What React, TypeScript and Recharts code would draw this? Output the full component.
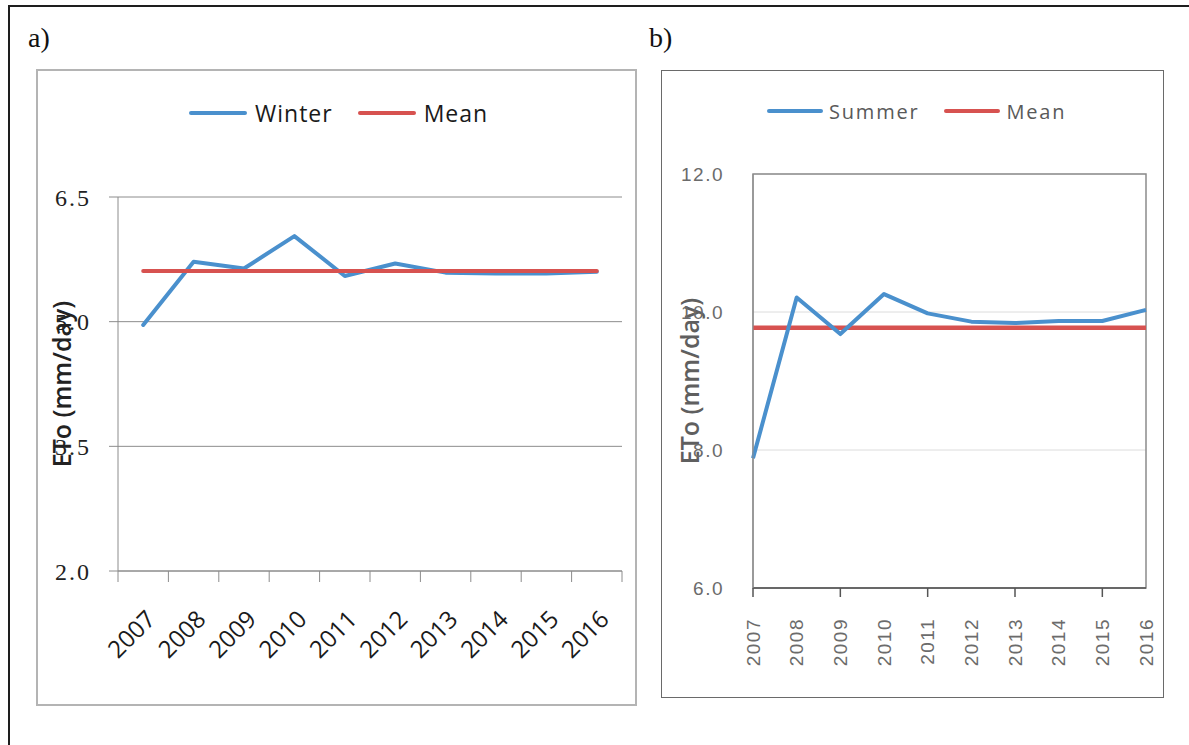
import React from 'react';
import { LineChart, Line, XAxis, YAxis, CartesianGrid, Legend, ReferenceArea } from 'recharts';

const years = [2007, 2008, 2009, 2010, 2011, 2012, 2013, 2014, 2015, 2016];

// panel a) winter ETo
const winterEto = [4.96, 5.72, 5.64, 6.03, 5.55, 5.7, 5.59, 5.58, 5.58, 5.6];
const winterMean = [5.61, 5.61, 5.61, 5.61, 5.61, 5.61, 5.61, 5.61, 5.61, 5.61];
const winterTicks = [2.0, 3.5, 5.0, 6.5];
// Excel draws the category tick marks between the years
const winterBounds = [2006.5, 2007.5, 2008.5, 2009.5, 2010.5, 2011.5, 2012.5, 2013.5, 2014.5, 2015.5, 2016.5];

// panel b) summer ETo
const summerEto = [7.88, 10.21, 9.68, 10.26, 9.98, 9.86, 9.84, 9.87, 9.87, 10.03];
const summerMean = [9.77, 9.77, 9.77, 9.77, 9.77, 9.77, 9.77, 9.77, 9.77, 9.77];
const summerTicks = [6, 8, 10, 12];
const summerMarkYears = [2007, 2009, 2011, 2013, 2015];

const BLUE = '#4a90cd';
const RED = '#d75250';
const SANS = '"Open Sans", sans-serif';

const winterData = years.map((year, i) => ({ year, winter: winterEto[i], mean: winterMean[i] }));
const summerData = years.map((year, i) => ({ year, summer: summerEto[i], mean: summerMean[i] }));

type LegendLook = {
  order: string[];
  lineWidth: number;
  textGap: number;
  gap: number;
  fontSize: number;
  letterSpacing: number;
  color: string;
};

const makeLegend = (look: LegendLook) => (props: any) => {
  const items = look.order
    .map((name) => (props.payload || []).find((p: any) => p.value === name))
    .filter(Boolean);
  return (
    <div style={{ display: 'flex', alignItems: 'center', height: 30, whiteSpace: 'nowrap', fontFamily: SANS }}>
      {items.map((entry: any, i: number) => (
        <div key={entry.value} style={{ display: 'flex', alignItems: 'center', marginRight: i < items.length - 1 ? look.gap : 0 }}>
          <span style={{ display: 'inline-block', width: look.lineWidth, height: 4, borderRadius: 2, background: entry.color }} />
          <span style={{ marginLeft: look.textGap, color: look.color, fontSize: look.fontSize, letterSpacing: look.letterSpacing }}>
            {entry.value}
          </span>
        </div>
      ))}
    </div>
  );
};

const yTitle = (shift: number, color: string) => (props: any) => {
  const { viewBox } = props;
  const cx = viewBox.x + shift;
  const cy = viewBox.y + viewBox.height / 2;
  return (
    <text
      x={cx}
      y={cy}
      transform={`rotate(-90 ${cx} ${cy})`}
      textAnchor="middle"
      dominantBaseline="central"
      fontFamily={SANS}
      fontSize={25}
      fontWeight={600}
      fill={color}
    >
      {props.value}
    </text>
  );
};

// tick marks only, no label
const NoLabel = () => <g />;

const SlantYearTick = (props: any) => {
  const { x, y, payload } = props;
  const tx = x + 7;
  return (
    <text
      x={tx}
      y={y}
      transform={`rotate(-45 ${tx} ${y})`}
      textAnchor="end"
      dominantBaseline="central"
      fontFamily={SANS}
      fontSize={24}
      fill="#1a1a1a"
    >
      {payload.value}
    </text>
  );
};

const UprightYearTick = (props: any) => {
  const { x, y, payload } = props;
  return (
    <text
      x={x}
      y={y}
      transform={`rotate(-90 ${x} ${y})`}
      textAnchor="end"
      dominantBaseline="central"
      fontFamily='"Liberation Sans", sans-serif'
      fontSize={19}
      letterSpacing={1.5}
      fill="#6b6b6b"
    >
      {payload.value}
    </text>
  );
};

function WinterChart() {
  const GRID = '#8c8c8c';
  return (
    <div style={{ position: 'absolute', left: 36, top: 69, width: 601, height: 637 }}>
      <div style={{ position: 'absolute', inset: 0, border: '2px solid #b4b4b4' }} />
      <LineChart width={601} height={637} data={winterData} margin={{ top: 128, right: 15, bottom: 0, left: 8 }}>
        <CartesianGrid xAxisId="years" vertical={false} stroke={GRID} />
        <XAxis
          xAxisId="bounds"
          dataKey="year"
          type="number"
          domain={[winterBounds[0], winterBounds[winterBounds.length - 1]]}
          ticks={winterBounds}
          interval={0}
          allowDataOverflow
          tick={<NoLabel />}
          tickSize={11}
          tickLine={{ stroke: GRID }}
          axisLine={{ stroke: GRID }}
          height={1}
        />
        <XAxis
          xAxisId="years"
          dataKey="year"
          scale="band"
          interval={0}
          axisLine={false}
          tickLine={false}
          tickSize={0}
          tickMargin={42}
          tick={<SlantYearTick />}
          height={134}
        />
        <YAxis
          domain={[2, 6.5]}
          ticks={winterTicks}
          tickFormatter={(v: number) => v.toFixed(1)}
          width={74}
          tickSize={9}
          tickMargin={18}
          tickLine={{ stroke: GRID }}
          axisLine={{ stroke: GRID }}
          tick={{ fill: '#222', fontSize: 24, fontFamily: '"Liberation Serif", serif', letterSpacing: 2 }}
          label={{ value: 'ETo (mm/day)', content: yTitle(16.5, '#222') }}
        />
        <Legend
          layout="horizontal"
          verticalAlign="middle"
          align="center"
          wrapperStyle={{ top: 29, left: 153, width: 'auto' }}
          content={makeLegend({ order: ['Winter', 'Mean'], lineWidth: 58, textGap: 8, gap: 25, fontSize: 23, letterSpacing: 1, color: '#1a1a1a' })}
        />
        <Line xAxisId="years" type="linear" dataKey="winter" name="Winter" stroke={BLUE} strokeWidth={4} dot={false} activeDot={false} strokeLinecap="round" strokeLinejoin="round" isAnimationActive={false} />
        <Line xAxisId="years" type="linear" dataKey="mean" name="Mean" stroke={RED} strokeWidth={4} dot={false} activeDot={false} strokeLinecap="round" isAnimationActive={false} />
      </LineChart>
    </div>
  );
}

function SummerChart() {
  return (
    <div style={{ position: 'absolute', left: 661, top: 70, width: 503, height: 628 }}>
      <div style={{ position: 'absolute', inset: 0, border: '1.5px solid #6a6a6a' }} />
      <LineChart width={503} height={628} data={summerData} margin={{ top: 104, right: 18, bottom: 0, left: 8 }}>
        <CartesianGrid xAxisId="years" vertical={false} stroke="#dcdcdc" />
        <ReferenceArea xAxisId="years" x1={years[0]} x2={years[years.length - 1]} y1={6} y2={12} fill="none" stroke="#8c8c8c" strokeWidth={1.5} />
        <XAxis
          xAxisId="marks"
          dataKey="year"
          type="number"
          domain={[years[0], years[years.length - 1]]}
          ticks={summerMarkYears}
          interval={0}
          allowDataOverflow
          tick={<NoLabel />}
          tickSize={9}
          tickLine={{ stroke: '#555', strokeWidth: 1.5 }}
          axisLine={{ stroke: '#555', strokeWidth: 1.5 }}
          height={1}
        />
        <XAxis
          xAxisId="years"
          dataKey="year"
          interval={0}
          axisLine={false}
          tickLine={false}
          tickSize={0}
          tickMargin={29}
          tick={<UprightYearTick />}
          height={109}
        />
        <YAxis
          domain={[6, 12]}
          ticks={summerTicks}
          tickFormatter={(v: number) => v.toFixed(1)}
          width={84}
          tickSize={0}
          tickMargin={29}
          tickLine={false}
          axisLine={{ stroke: '#8c8c8c' }}
          tick={{ fill: '#6b6b6b', fontSize: 19, fontFamily: '"Liberation Sans", sans-serif', letterSpacing: 1.5 }}
          label={{ value: 'ETo (mm/day)', content: yTitle(20, '#5f5f5f') }}
        />
        <Legend
          layout="horizontal"
          verticalAlign="middle"
          align="center"
          wrapperStyle={{ top: 26, left: 106, width: 'auto' }}
          content={makeLegend({ order: ['Summer', 'Mean'], lineWidth: 56, textGap: 6, gap: 25, fontSize: 20, letterSpacing: 1.8, color: '#595959' })}
        />
        <Line xAxisId="years" type="linear" dataKey="mean" name="Mean" stroke={RED} strokeWidth={4.5} dot={false} activeDot={false} isAnimationActive={false} />
        <Line xAxisId="years" type="linear" dataKey="summer" name="Summer" stroke={BLUE} strokeWidth={4} dot={false} activeDot={false} strokeLinejoin="round" isAnimationActive={false} />
      </LineChart>
    </div>
  );
}

const panelTag = (left: number): React.CSSProperties => ({
  position: 'absolute',
  left,
  top: 24,
  fontFamily: '"Liberation Serif", serif',
  fontSize: 28,
  lineHeight: '28px',
  color: '#111',
});

export default function App() {
  return (
    <div style={{ position: 'absolute', left: 0, top: 0, width: 1189, height: 745, overflow: 'hidden', background: '#fff' }}>
      {/* page frame: only the top and left edges fall inside the picture */}
      <div style={{ position: 'absolute', left: 8, top: 5, width: 1300, height: 800, borderTop: '2.5px solid #1e1e1e', borderLeft: '2px solid #1e1e1e' }} />
      <div style={panelTag(28)}>a)</div>
      <div style={panelTag(649)}>b)</div>
      <WinterChart />
      <SummerChart />
    </div>
  );
}
